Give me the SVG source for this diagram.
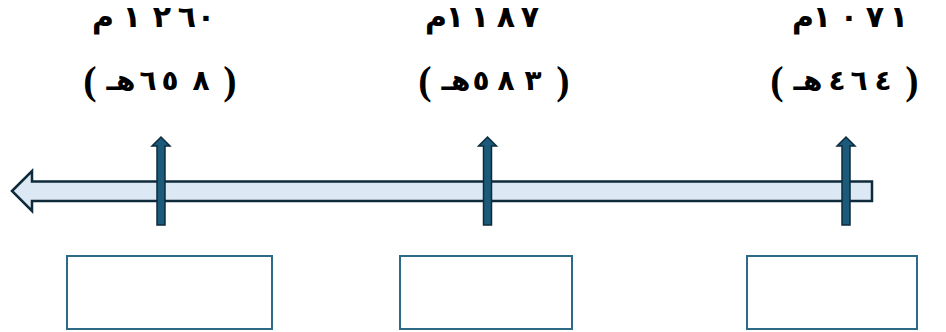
<svg xmlns="http://www.w3.org/2000/svg" width="946" height="332" viewBox="0 0 946 332">
<style>
text{font-family:"DejaVu Sans","Liberation Serif",serif;font-weight:bold;fill:#000;text-anchor:middle}
.l1{font-size:30px}
.l2{font-size:28px}
.p{font-family:"Liberation Serif","DejaVu Serif",serif;font-size:40px}
.tick{fill:#1B5A7A;stroke:#0E2B3B;stroke-width:1.5;stroke-linejoin:miter}
.box{fill:#fff;stroke:#2C6A88;stroke-width:2}
</style>
<rect width="946" height="332" fill="#fff"/>
<g id="timeline">
<path d="M12,191 L32,171 L32,181.5 L872,181.5 L872,201 L32,201 L32,211 Z" fill="#DDE8F5" stroke="#0F2A3A" stroke-width="2.5" stroke-linejoin="miter"/>
</g>
<g id="connectors">
<path class="tick" d="M157,225 L157,146 L152,146 L161,137 L170,146 L165,146 L165,225 Z"/>
<path class="tick" d="M483.5,225 L483.5,146 L478.5,146 L487.5,137 L496.5,146 L491.5,146 L491.5,225 Z"/>
<path class="tick" d="M842,225 L842,146 L837,146 L846,137 L855,146 L850,146 L850,225 Z"/>
</g>
<g id="event1">
<g class="l1">
<text x="103" y="27">م</text><text x="132" y="27">١</text><text x="162" y="27">٢</text><text x="187" y="27">٦</text><text x="206" y="27">٠</text>
</g>
<g class="l2">
<text class="p" x="90" y="94">(</text><text x="121" y="90">هـ</text><text x="148" y="90">٦</text><text x="170" y="90">٥</text><text x="201" y="90">٨</text><text class="p" x="230" y="94">)</text>
</g>
<rect class="box" x="67" y="256" width="205" height="73"/>
</g>
<g id="event2">
<g class="l1">
<text x="436" y="27">م</text><text x="455" y="27">١</text><text x="480" y="27">١</text><text x="506" y="27">٨</text><text x="530" y="27">٧</text>
</g>
<g class="l2">
<text class="p" x="425" y="94">(</text><text x="456" y="90">هـ</text><text x="481" y="90">٥</text><text x="506" y="90">٨</text><text x="533" y="90">٣</text><text class="p" x="563" y="94">)</text>
</g>
<rect class="box" x="400" y="256" width="172" height="73"/>
</g>
<g id="event3">
<g class="l1">
<text x="803" y="27">م</text><text x="822" y="27">١</text><text x="849" y="27">٠</text><text x="875" y="27">٧</text><text x="899" y="27">١</text>
</g>
<g class="l2">
<text class="p" x="777" y="94">(</text><text x="808" y="90">هـ</text><text x="837" y="90">٤</text><text x="859" y="90">٦</text><text x="883" y="90">٤</text><text class="p" x="912" y="94">)</text>
</g>
<rect class="box" x="747" y="256" width="170" height="73"/>
</g>
</svg>
